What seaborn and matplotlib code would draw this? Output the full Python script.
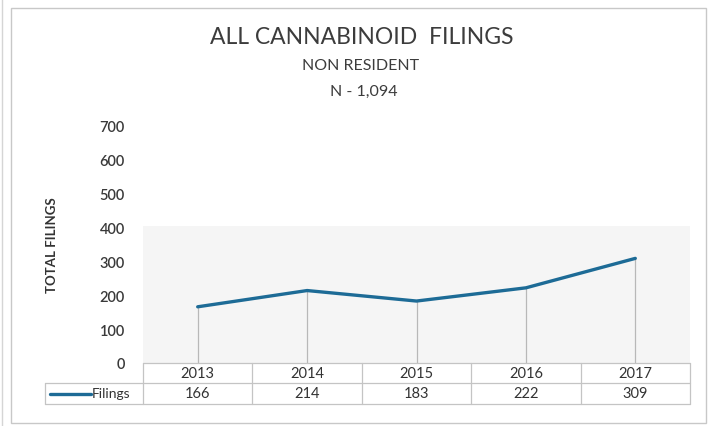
import matplotlib
matplotlib.use("Agg")
import matplotlib.pyplot as plt
import matplotlib.transforms as mtransforms
from matplotlib.lines import Line2D
from matplotlib.patches import Rectangle
import seaborn as sns
import pandas as pd

# ---- data ----
years = ["2013", "2014", "2015", "2016", "2017"]
filings = [166, 214, 183, 222, 309]
series_name = "Filings"
title = "ALL CANNABINOID  FILINGS"
subtitle = "NON RESIDENT"
total_label = "N - 1,094"
y_ticks = [0, 100, 200, 300, 400, 500, 600, 700]

df = pd.DataFrame({"pos": range(len(years)), "year": years, "value": filings})

sns.set_theme(style="white")
plt.rcParams["font.family"] = ["Lato", "DejaVu Sans"]

W, H = 712, 427
fig = plt.figure(figsize=(W / 100, H / 100), dpi=100)
fig.patch.set_facecolor("white")


def fx(x):
    return x / W


def fy(y):
    return 1 - y / H


# plot area
x0, x1, ytop, y0 = 143, 690, 127, 364
ax = fig.add_axes([fx(x0), fy(y0), fx(x1) - fx(x0), fy(ytop) - fy(y0)])
ax.set_facecolor("white")

# faint shaded band in the lower part of the plot area
ax.axhspan(0, 405, color="#f5f5f5", zorder=0, lw=0)

# drop lines from each point to the baseline
ax.vlines(df["pos"], 0, df["value"], color="#b8b8b8", lw=0.9, zorder=1)

sns.lineplot(data=df, x="pos", y="value", ax=ax, color="#1d6b96",
             lw=2.4, legend=False, zorder=3)

ax.set_xlim(-0.5, len(years) - 0.5)
ax.set_ylim(0, 700)
ax.set_yticks(y_ticks)
ax.set_yticklabels([str(t) for t in y_ticks], fontsize=10.5,
                   fontweight="semibold", color="#3a3a3a")
ax.tick_params(axis="y", length=0, pad=13)
ax.set_xticks([])
ax.set_xlabel("")
ax.set_ylabel("")
for s in ax.spines.values():
    s.set_visible(False)

# titles
fig.text(fx(362), fy(38), title, ha="center", va="center",
         fontsize=16.5, color="#3c3c3c")
fig.text(fx(361), fy(66), subtitle, ha="center", va="center",
         fontsize=11.5, color="#3c3c3c")
fig.text(fx(364), fy(92), total_label, ha="center", va="center",
         fontsize=11.5, color="#3c3c3c")

# axis title
fig.text(fx(52), fy(245), "TOTAL FILINGS", rotation=90, ha="center",
         va="center", fontsize=9.5, fontweight="bold", color="#333333")

# ---- data table under the plot ----
grid_c = "#c4c4c4"
row1_top, row1_bot, row2_bot = 364, 384, 405
legend_left = 45
col_w = (x1 - x0) / len(years)


def hline(y, xa, xb):
    fig.add_artist(Line2D([fx(xa), fx(xb)], [fy(y), fy(y)], color=grid_c, lw=0.9))


def vline(x, ya, yb):
    fig.add_artist(Line2D([fx(x), fx(x)], [fy(ya), fy(yb)], color=grid_c, lw=0.9))


hline(row1_top, x0, x1)
hline(row1_bot, legend_left, x1)
hline(row2_bot, legend_left, x1)
vline(legend_left, row1_bot, row2_bot)
for i in range(len(years) + 1):
    vline(x0 + i * col_w, row1_top, row2_bot)

tr = mtransforms.blended_transform_factory(ax.transData, fig.transFigure)
for i, (yr, v) in enumerate(zip(years, filings)):
    ax.text(i, fy((row1_top + row1_bot) / 2), yr, transform=tr, ha="center",
            va="center", fontsize=10.5, color="#333333", clip_on=False)
    ax.text(i, fy((row1_bot + row2_bot) / 2), str(v), transform=tr, ha="center",
            va="center", fontsize=10.5, color="#333333", clip_on=False)

# legend key inside the table
ymid = fy((row1_bot + row2_bot) / 2)
fig.add_artist(Line2D([fx(50), fx(91)], [ymid, ymid], color="#1d6b96", lw=2.4))
fig.text(fx(92), ymid, series_name, ha="left", va="center", fontsize=10,
         color="#333333")

# chart border
fig.add_artist(Rectangle((fx(11), fy(424)), fx(706) - fx(11), fy(9) - fy(424),
                         fill=False, edgecolor="#c8c8c8", lw=1.0))
fig.add_artist(Line2D([fx(2), fx(2)], [0, 1], color="#d5d5d5", lw=1.0))

fig.savefig("out.png", dpi=100, facecolor="white")
